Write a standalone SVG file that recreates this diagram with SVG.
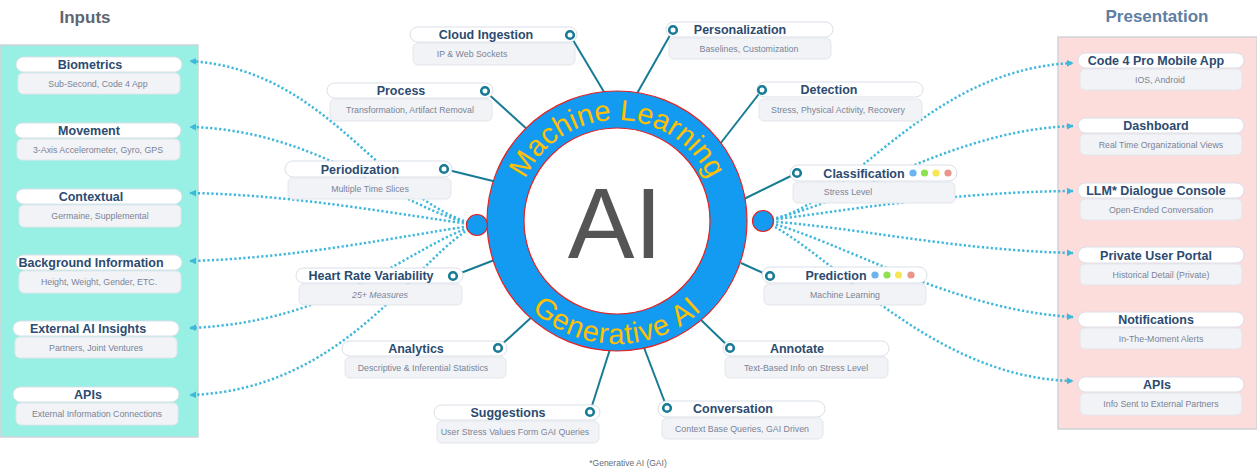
<svg xmlns="http://www.w3.org/2000/svg" width="1257" height="472" viewBox="0 0 1257 472">
<style>
.pill{fill:#ffffff;stroke:#d9dfe7;stroke-width:1}
.sub{fill:#f1f3f6;stroke:#e2e6eb;stroke-width:1}
.t{font-family:"Liberation Sans",Arial,sans-serif;font-weight:bold;font-size:12.5px;fill:#2d4b70;text-anchor:middle}
.s{font-family:"Liberation Sans",Arial,sans-serif;font-size:8.8px;fill:#7b8396;text-anchor:middle}
.dot{fill:none;stroke:#3db8da;stroke-width:2.5;stroke-dasharray:2.2 2.3;marker-end:url(#arr)}
.teal{stroke:#177b95;stroke-width:2;fill:none}
.h{fill:#ffffff;stroke:#177b95;stroke-width:2.6}
.head{font-family:"Liberation Sans",Arial,sans-serif;font-weight:bold;font-size:17px;text-anchor:middle}
.ring{font-family:"Liberation Sans",Arial,sans-serif;font-size:29px;fill:#ffc000}
</style>
<defs>
<marker id="arr" viewBox="0 0 10 10" refX="9" refY="5" markerWidth="7" markerHeight="7" markerUnits="userSpaceOnUse" orient="auto">
<path d="M0,0 L10,5 L0,10 z" fill="#3db8da"/>
</marker>
<path id="arcTop" d="M 516,221 A 101,101 0 0 1 718,221"/>
<path id="arcBot" d="M 494,221 A 123,123 0 0 0 740,221"/>
</defs>
<rect width="1257" height="472" fill="#ffffff"/>

<g id="panel-inputs">
<rect x="0" y="45" width="198" height="392" fill="#98efe3" stroke="#d0d4d8" stroke-width="1.5"/>
<text class="head" x="85" y="23" fill="#5f6670">Inputs</text>
</g>
<g id="panel-presentation">
<rect x="1058" y="37" width="199" height="392" fill="#fddcdc" stroke="#d0d4d8" stroke-width="1.5"/>
<text class="head" x="1157" y="22" fill="#5e7fa3">Presentation</text>
</g>

<g id="connectors">
<path class="dot" d="M477,225 C380,200 330,70 190,61"/>
<path class="dot" d="M477,225 C400,210 320,130 190,127"/>
<path class="dot" d="M477,225 C400,215 300,195 190,193"/>
<path class="dot" d="M477,225 C400,236 300,258 190,261"/>
<path class="dot" d="M477,225 C410,245 340,322 190,328"/>
<path class="dot" d="M477,225 C420,250 350,390 190,395"/>
<path class="dot" d="M763,221 C850,210 920,70 1073,63"/>
<path class="dot" d="M763,221 C850,205 950,130 1073,126"/>
<path class="dot" d="M763,221 C850,210 950,192 1073,191"/>
<path class="dot" d="M763,221 C850,226 950,250 1073,253"/>
<path class="dot" d="M763,221 C840,240 950,310 1073,317"/>
<path class="dot" d="M763,221 C830,250 930,378 1073,381"/>
<line class="teal" x1="570" y1="35" x2="607" y2="97"/>
<line class="teal" x1="673" y1="30" x2="635" y2="97"/>
<line class="teal" x1="762" y1="90" x2="720" y2="144"/>
<line class="teal" x1="797" y1="173" x2="744" y2="199"/>
<line class="teal" x1="770" y1="276" x2="741" y2="263"/>
<line class="teal" x1="730" y1="348" x2="700" y2="319"/>
<line class="teal" x1="667" y1="408" x2="643" y2="345"/>
<line class="teal" x1="590" y1="412" x2="611" y2="346"/>
<line class="teal" x1="498" y1="348" x2="535" y2="314"/>
<line class="teal" x1="453" y1="276" x2="497" y2="259"/>
<line class="teal" x1="444" y1="169" x2="497" y2="182"/>
<line class="teal" x1="485" y1="91" x2="528" y2="130"/>
</g>

<g id="ai-core">
<circle cx="617" cy="221" r="130" fill="#129bf0" stroke="#e52222" stroke-width="1.2"/>
<circle cx="617" cy="221" r="93" fill="#ffffff" stroke="#e52222" stroke-width="1.2"/>
<text class="ring"><textPath href="#arcTop" startOffset="50%" text-anchor="middle">Machine Learning</textPath></text>
<text class="ring" letter-spacing="1"><textPath href="#arcBot" startOffset="50%" text-anchor="middle">Generative AI</textPath></text>
<text x="615" y="258" font-family="Liberation Sans, Arial, sans-serif" font-size="100" fill="#555555" text-anchor="middle">AI</text>
<circle cx="477" cy="225" r="10.5" fill="#129bf0" stroke="#e52222" stroke-width="1.2"/>
<circle cx="763" cy="221" r="10.5" fill="#129bf0" stroke="#e52222" stroke-width="1.2"/>
</g>

<g id="in-biometrics"><rect class="pill" x="16" y="57" width="166" height="15" rx="7.5"/><text class="t" x="90" y="69">Biometrics</text><rect class="sub" x="18" y="73" width="162" height="21" rx="5"/><text class="s" x="98" y="87">Sub-Second, Code 4 App</text></g>
<g id="in-movement"><rect class="pill" x="15" y="123" width="166" height="15" rx="7.5"/><text class="t" x="89" y="135">Movement</text><rect class="sub" x="17" y="139" width="163" height="21" rx="5"/><text class="s" x="98" y="153">3-Axis Accelerometer, Gyro, GPS</text></g>
<g id="in-contextual"><rect class="pill" x="16" y="189" width="166" height="15" rx="7.5"/><text class="t" x="91" y="201">Contextual</text><rect class="sub" x="19" y="205" width="162" height="22" rx="5"/><text class="s" x="100" y="219">Germaine, Supplemental</text></g>
<g id="in-background"><rect class="pill" x="16" y="255" width="166" height="15" rx="7.5"/><text class="t" x="91" y="267">Background Information</text><rect class="sub" x="19" y="271" width="162" height="22" rx="5"/><text class="s" x="99" y="285">Height, Weight, Gender, ETC.</text></g>
<g id="in-external"><rect class="pill" x="13" y="321" width="166" height="15" rx="7.5"/><text class="t" x="88" y="333">External AI Insights</text><rect class="sub" x="15" y="337" width="162" height="21" rx="5"/><text class="s" x="96" y="351">Partners, Joint Ventures</text></g>
<g id="in-apis"><rect class="pill" x="13" y="387" width="166" height="15" rx="7.5"/><text class="t" x="88" y="399">APIs</text><rect class="sub" x="16" y="403" width="162" height="22" rx="5"/><text class="s" x="97" y="417">External Information Connections</text></g>

<g id="out-mobile"><rect class="pill" x="1078" y="53" width="166" height="15" rx="7.5"/><text class="t" x="1156" y="65">Code 4 Pro Mobile App</text><rect class="sub" x="1080" y="69" width="162" height="21" rx="5"/><text class="s" x="1160" y="83">IOS, Android</text></g>
<g id="out-dashboard"><rect class="pill" x="1078" y="118" width="166" height="15" rx="7.5"/><text class="t" x="1156" y="130">Dashboard</text><rect class="sub" x="1080" y="134" width="162" height="21" rx="5"/><text class="s" x="1161" y="148">Real Time Organizational Views</text></g>
<g id="out-llm"><rect class="pill" x="1078" y="183" width="166" height="15" rx="7.5"/><text class="t" x="1156" y="195">LLM* Dialogue Console</text><rect class="sub" x="1080" y="199" width="162" height="21" rx="5"/><text class="s" x="1161" y="213">Open-Ended Conversation</text></g>
<g id="out-portal"><rect class="pill" x="1078" y="247" width="166" height="16" rx="8"/><text class="t" x="1156" y="260">Private User Portal</text><rect class="sub" x="1080" y="264" width="162" height="21" rx="5"/><text class="s" x="1161" y="278">Historical Detail (Private)</text></g>
<g id="out-notifications"><rect class="pill" x="1078" y="312" width="166" height="15" rx="7.5"/><text class="t" x="1156" y="324">Notifications</text><rect class="sub" x="1080" y="328" width="162" height="21" rx="5"/><text class="s" x="1161" y="342">In-The-Moment Alerts</text></g>
<g id="out-apis"><rect class="pill" x="1078" y="377" width="166" height="15" rx="7.5"/><text class="t" x="1157" y="389">APIs</text><rect class="sub" x="1080" y="393" width="162" height="22" rx="5"/><text class="s" x="1161" y="407">Info Sent to External Partners</text></g>

<g id="n-cloud"><rect class="pill" x="410" y="27" width="167" height="15" rx="7.5"/><text class="t" x="486" y="39">Cloud Ingestion</text><circle class="h" cx="570" cy="35" r="3.8"/><rect class="sub" x="413" y="43" width="162" height="22" rx="5"/><text class="s" x="472" y="57">IP &amp; Web Sockets</text></g>
<g id="n-personalization"><rect class="pill" x="666" y="22" width="167" height="15" rx="7.5"/><text class="t" x="740" y="34">Personalization</text><circle class="h" cx="673" cy="30" r="3.8"/><rect class="sub" x="669" y="38" width="162" height="21" rx="5"/><text class="s" x="749" y="52">Baselines, Customization</text></g>
<g id="n-detection"><rect class="pill" x="757" y="82" width="166" height="15" rx="7.5"/><text class="t" x="829" y="94">Detection</text><circle class="h" cx="762" cy="90" r="3.8"/><rect class="sub" x="759" y="99" width="163" height="22" rx="5"/><text class="s" x="838" y="113">Stress, Physical Activity, Recovery</text></g>
<g id="n-classification"><rect class="pill" x="790" y="165" width="167" height="16" rx="8"/><text class="t" x="864" y="178">Classification</text><circle class="h" cx="797" cy="173" r="3.8"/><circle cx="913" cy="173" r="3.6" fill="#6cb4ee"/><circle cx="924.5" cy="173" r="3.6" fill="#8ee04e"/><circle cx="936" cy="173" r="3.6" fill="#f7e654"/><circle cx="948" cy="173" r="3.6" fill="#e8958a"/><rect class="sub" x="793" y="182" width="162" height="21" rx="5"/><text class="s" x="848" y="195">Stress Level</text></g>
<g id="n-prediction"><rect class="pill" x="762" y="267" width="165" height="16" rx="8"/><text class="t" x="836" y="280">Prediction</text><circle class="h" cx="770" cy="276" r="3.8"/><circle cx="875" cy="275" r="3.6" fill="#6cb4ee"/><circle cx="887" cy="275" r="3.6" fill="#8ee04e"/><circle cx="898.5" cy="275" r="3.6" fill="#f7e654"/><circle cx="911" cy="275" r="3.6" fill="#e8958a"/><rect class="sub" x="764" y="284" width="162" height="21" rx="5"/><text class="s" x="845" y="298">Machine Learning</text></g>
<g id="n-annotate"><rect class="pill" x="723" y="341" width="166" height="15" rx="7.5"/><text class="t" x="797" y="353">Annotate</text><circle class="h" cx="730" cy="348" r="3.8"/><rect class="sub" x="725" y="357" width="163" height="21" rx="5"/><text class="s" x="806" y="371">Text-Based Info on Stress Level</text></g>
<g id="n-conversation"><rect class="pill" x="658" y="401" width="167" height="16" rx="8"/><text class="t" x="733" y="413">Conversation</text><circle class="h" cx="667" cy="408" r="3.8"/><rect class="sub" x="662" y="418" width="161" height="21" rx="5"/><text class="s" x="742" y="432">Context Base Queries, GAI Driven</text></g>
<g id="n-suggestions"><rect class="pill" x="434" y="405" width="166" height="15" rx="7.5"/><text class="t" x="508" y="417">Suggestions</text><circle class="h" cx="590" cy="412" r="3.8"/><rect class="sub" x="437" y="421" width="162" height="22" rx="5"/><text class="s" x="515" y="435">User Stress Values Form GAI Queries</text></g>
<g id="n-analytics"><rect class="pill" x="342" y="341" width="165" height="15" rx="7.5"/><text class="t" x="416" y="353">Analytics</text><circle class="h" cx="498" cy="348" r="3.8"/><rect class="sub" x="345" y="357" width="161" height="21" rx="5"/><text class="s" x="423" y="371">Descriptive &amp; Inferential Statistics</text></g>
<g id="n-hrv"><rect class="pill" x="296" y="268" width="167" height="15" rx="7.5"/><text class="t" x="371" y="280">Heart Rate Variability</text><circle class="h" cx="453" cy="276" r="3.8"/><rect class="sub" x="299" y="284" width="163" height="21" rx="5"/><text class="s" x="380" y="298" font-style="italic">25+ Measures</text></g>
<g id="n-periodization"><rect class="pill" x="285" y="161" width="167" height="16" rx="8"/><text class="t" x="360" y="174">Periodization</text><circle class="h" cx="444" cy="169" r="3.8"/><rect class="sub" x="288" y="178" width="163" height="21" rx="5"/><text class="s" x="370" y="192">Multiple Time Slices</text></g>
<g id="n-process"><rect class="pill" x="327" y="83" width="166" height="15" rx="7.5"/><text class="t" x="401" y="95">Process</text><circle class="h" cx="485" cy="91" r="3.8"/><rect class="sub" x="330" y="99" width="162" height="22" rx="5"/><text class="s" x="410" y="113">Transformation, Artifact Removal</text></g>

<text x="628" y="466" font-family="Liberation Sans, Arial, sans-serif" font-size="8.5" fill="#666b75" text-anchor="middle">*Generative AI (GAI)</text>
</svg>
